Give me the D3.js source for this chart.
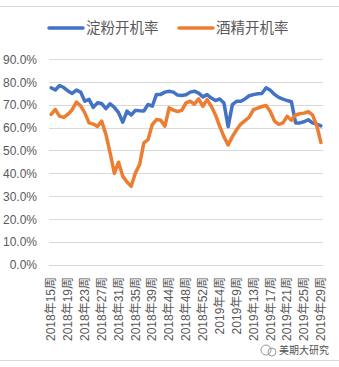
<!DOCTYPE html>
<html><head><meta charset="utf-8">
<script src="https://cdn.jsdelivr.net/npm/d3@7"></script>
<style>body{margin:0;background:#fff}svg{display:block}</style>
</head><body>
<svg id="c" width="339" height="367"></svg>
<script>
const categories = [
"2018年15周","2018年16周","2018年17周","2018年18周","2018年19周","2018年20周","2018年21周","2018年22周",
"2018年23周","2018年24周","2018年25周","2018年26周","2018年27周","2018年28周","2018年29周","2018年30周",
"2018年31周","2018年32周","2018年33周","2018年34周","2018年35周","2018年36周","2018年37周","2018年38周",
"2018年39周","2018年41周","2018年42周","2018年43周","2018年44周","2018年45周","2018年46周","2018年47周",
"2018年48周","2018年49周","2018年50周","2018年51周","2018年52周","2019年1周","2019年2周","2019年3周",
"2019年4周","2019年5周","2019年7周","2019年8周","2019年9周","2019年10周","2019年11周","2019年12周",
"2019年13周","2019年14周","2019年15周","2019年16周","2019年17周","2019年18周","2019年19周","2019年20周",
"2019年21周","2019年22周","2019年23周","2019年24周","2019年25周","2019年26周","2019年27周","2019年28周",
"2019年29周"];
const starch = [
77.4,76.4,78.4,77.5,76.0,74.9,76.4,75.5,71.5,72.3,68.8,70.8,70.5,68.3,70.4,68.8,
66.5,62.3,67.2,65.5,67.5,67.3,67.2,70.1,69.3,74.5,74.5,75.5,75.9,75.5,74.2,74.0,
74.3,75.5,75.9,75.1,73.4,74.4,72.9,71.8,72.5,70.7,60.4,70.0,71.5,71.5,72.5,73.9,
74.4,74.8,74.9,77.4,76.3,74.5,73.2,72.4,71.8,71.3,62.0,62.0,62.5,63.4,62.0,61.5,
60.7];
const alcohol = [
65.7,67.9,65.0,64.4,65.8,67.8,71.1,69.5,66.4,62.0,61.5,60.5,62.8,57.0,48.9,39.9,
44.8,38.7,36.1,34.3,40.1,43.8,53.3,54.7,61.3,63.5,63.2,60.6,68.6,67.6,67.0,67.5,
70.8,71.5,70.2,72.5,69.3,72.2,69.3,65.5,60.5,56.0,52.4,56.0,59.0,61.5,63.0,64.5,
67.8,68.5,69.2,69.6,67.0,62.8,61.4,62.0,64.9,63.2,65.5,66.0,66.3,67.0,65.5,61.0,
53.4];
const yTicks = [0,10,20,30,40,50,60,70,80,90];
const seriesNames = ["淀粉开机率","酒精开机率"];
const colors = ["#4472C4","#ED7D31"];

const svg = d3.select("#c");
const L = 49, R = 323, T = 59, B = 264.5;
const x = d3.scaleBand().domain(categories).range([L, R]).paddingInner(0).paddingOuter(0);
const y = d3.scaleLinear().domain([0, 90]).range([B, T]);

svg.append("line").attr("x1",0).attr("x2",339).attr("y1",6.5).attr("y2",6.5).attr("stroke","#d9d9d9");
svg.append("line").attr("x1",0).attr("x2",339).attr("y1",360.5).attr("y2",360.5).attr("stroke","#d9d9d9");

svg.append("g").selectAll("line").data(yTicks).join("line")
  .attr("x1", L).attr("x2", R)
  .attr("y1", d => Math.round(y(d)) + 0.5).attr("y2", d => Math.round(y(d)) + 0.5)
  .attr("stroke", "#d9d9d9").attr("stroke-width", 1);

const yAxis = d3.axisLeft(y).tickValues(yTicks).tickSize(0).tickPadding(0)
  .tickFormat(d => d.toFixed(1) + "%");
const gy = svg.append("g").attr("transform", "translate(37,0)").call(yAxis);
gy.select(".domain").remove();
gy.selectAll("text").attr("font-family", "Liberation Sans, Arial, sans-serif")
  .attr("font-size", 12).attr("fill", "#595959").attr("dy", "0.35em");

const xAxis = d3.axisBottom(x).tickValues(categories.filter((d, i) => i % 4 === 0)).tickSize(0).tickPadding(0);
const gx = svg.append("g").attr("transform", `translate(0,${B})`).call(xAxis);
gx.select(".domain").remove();
gx.selectAll("text")
  .attr("font-family", "Liberation Sans, 'Noto Sans CJK SC', sans-serif")
  .attr("font-size", 12).attr("fill", "#595959")
  .attr("transform", "translate(0,12.5) rotate(-90)")
  .attr("text-anchor", "end").attr("x", 0).attr("y", 0).attr("dy", "0.35em");

const line = d3.line().x((d, i) => x(categories[i]) + x.bandwidth() / 2).y(d => y(d));
[starch, alcohol].forEach((s, k) => {
  svg.append("path").datum(s).attr("d", line).attr("fill", "none")
    .attr("stroke", colors[k]).attr("stroke-width", 3.5)
    .attr("stroke-linejoin", "round").attr("stroke-linecap", "round");
});

const legendItems = [{x1: 49, x2: 83, tx: 86}, {x1: 179, x2: 213, tx: 216}];
legendItems.forEach((p, k) => {
  svg.append("line").attr("x1", p.x1).attr("x2", p.x2).attr("y1", 28).attr("y2", 28)
    .attr("stroke", colors[k]).attr("stroke-width", 3.5).attr("stroke-linecap", "round");
  svg.append("text").attr("x", p.tx).attr("y", 28).attr("dy", "0.35em")
    .attr("font-family", "'Noto Sans CJK SC', sans-serif").attr("font-size", 14.5)
    .attr("fill", "#595959").text(seriesNames[k]);
});

const wm = svg.append("g").attr("opacity", 0.85);
wm.append("circle").attr("cx", 266).attr("cy", 350).attr("r", 5).attr("fill", "none").attr("stroke", "#888").attr("stroke-width", 1);
wm.append("circle").attr("cx", 272).attr("cy", 352).attr("r", 4).attr("fill", "none").attr("stroke", "#888").attr("stroke-width", 1);
wm.append("text").attr("x", 279).attr("y", 350).attr("dy", "0.35em")
  .attr("font-family", "'Noto Sans CJK SC', sans-serif").attr("font-size", 10)
  .attr("fill", "#333").attr("stroke", "#fff").attr("stroke-width", 2).attr("paint-order", "stroke")
  .text("美期大研究");
</script>
</body></html>
